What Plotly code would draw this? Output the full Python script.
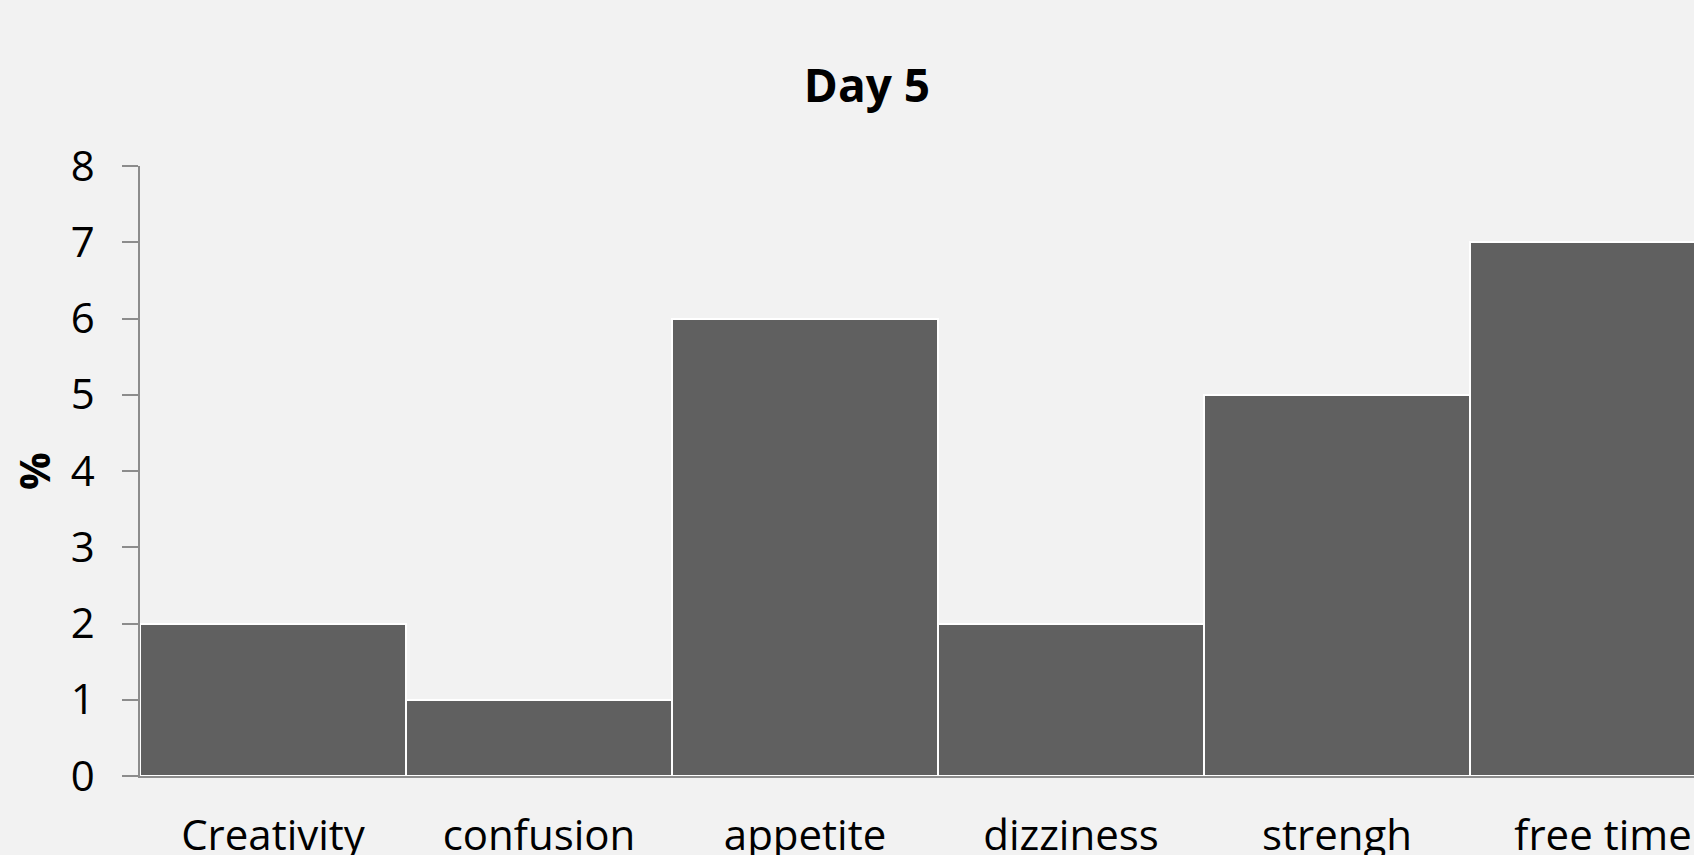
import plotly.graph_objects as go

# Day 5 survey results
categories = ["Creativity", "confusion", "appetite", "dizziness", "strengh", "free time"]
values = [2, 1, 6, 2, 5, 7]
y_ticks = [0, 1, 2, 3, 4, 5, 6, 7, 8]

BG = "#f2f2f2"
AXIS = "#8c8c8c"
FONT = "Open Sans"

fig = go.Figure(
    go.Bar(
        x=categories,
        y=values,
        marker=dict(color="#606060", line=dict(color="#ffffff", width=2)),
        hoverinfo="skip",
    )
)

fig.update_layout(
    width=1694,
    height=855,
    margin=dict(l=140, r=0, t=166, b=79, pad=0),
    paper_bgcolor=BG,
    plot_bgcolor=BG,
    bargap=0,
    showlegend=False,
    font=dict(family=FONT, color="#000000", size=42),
    title=dict(
        text="<b>Day 5</b>",
        font=dict(family=FONT, size=46, color="#000000"),
        x=867 / 1694,
        xanchor="center",
        xref="container",
        y=1 - 86 / 855,
        yanchor="middle",
        yref="container",
    ),
)

fig.update_xaxes(
    range=[-0.5, 5.342],
    automargin=False,
    showgrid=False,
    zeroline=False,
    showline=True,
    linecolor=AXIS,
    linewidth=1.5,
    ticks="",
    ticklabelstandoff=22,
    tickfont=dict(family=FONT, size=42, color="#000000"),
)

fig.update_yaxes(
    range=[0, 8],
    automargin=False,
    tickvals=y_ticks,
    showgrid=False,
    zeroline=False,
    showline=True,
    linecolor=AXIS,
    linewidth=1.5,
    ticks="outside",
    ticklen=16,
    tickwidth=1.5,
    tickcolor=AXIS,
    ticklabelstandoff=19,
    tickfont=dict(family=FONT, size=42, color="#000000"),
    title=dict(text="<b>%</b>", font=dict(family=FONT, size=42, color="#000000"), standoff=7),
)

fig.write_html("out.html")
